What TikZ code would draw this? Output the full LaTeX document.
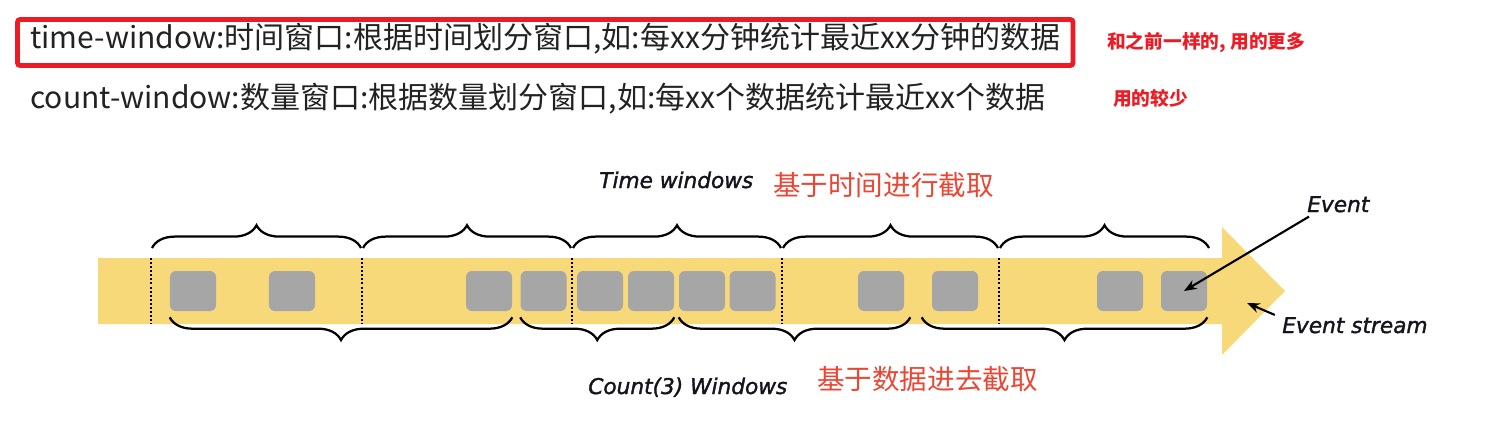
\documentclass[tikz,border=0pt]{standalone}
\usepackage{fontspec}
\setmainfont{Noto Sans CJK SC}
\newfontfamily\lblfont{DejaVu Sans}[ItalicFeatures={FakeBold=1.6}]
\usetikzlibrary{positioning, arrows.meta, decorations.pathreplacing}
\definecolor{boxred}{RGB}{237,28,36}
\definecolor{cnred}{RGB}{235,70,52}
\definecolor{bandyellow}{RGB}{248,217,122}
\definecolor{eventgray}{RGB}{166,166,166}
\definecolor{textgray}{RGB}{34,34,34}
\definecolor{lblink}{RGB}{20,20,30}

\begin{document}
\begin{tikzpicture}[x=0.025cm, y=-0.025cm,
    line/.style={anchor=base west, inner sep=0, font=\fontsize{21.35}{26}\selectfont, text=textgray},
    note/.style={anchor=base west, inner sep=0, font=\fontsize{13.3}{16}\selectfont\bfseries, text=boxred},
    lbl/.style={anchor=base west, inner sep=0, font=\lblfont\itshape\fontsize{15.4}{18}\selectfont, text=lblink},
    cn/.style={anchor=base west, inner sep=0, font=\fontsize{19.6}{22}\selectfont, text=cnred},
    event/.style={rectangle, rounded corners=0.15cm, fill=eventgray, minimum width=1.15cm, minimum height=1cm, inner sep=0},
    sep/.style={line width=1.4pt, dash pattern=on 1.4pt off 1.5pt},
    wbrace/.style={decorate, decoration={brace, amplitude=0.57cm}, line width=1.6pt},
    ptr/.style={line width=1.5pt, -{Stealth[length=9pt, width=7pt]}}]
    \useasboundingbox (0,0) rectangle (1505,441);

    % Text lines
    \node[line] (timeline) at (30,48) {time-window:时间窗口:根据时间划分窗口,如:每xx分钟统计最近xx分钟的数据};
    \node[line] (countline) at (30,108) {count-window:数量窗口:根据数量划分窗口,如:每xx个数据统计最近xx个数据};
    \draw[boxred, line width=3.5pt, rounded corners=2pt] (17.5,19.5) rectangle (1073,65.5);
    \node[note] (note1) at (1107,48) {和之前一样的, 用的更多};
    \node[note] (note2) at (1113,105) {用的较少};

    % Stream
    \fill[bandyellow] (98,258) -- (1222,258) -- (1222,227) -- (1285,291)
        -- (1222,355) -- (1222,324) -- (98,324) -- cycle;
    \draw[sep] (151,258) -- (151,324);
    \draw[sep] (362,258) -- (362,324);
    \draw[sep] (572,258) -- (572,324);
    \draw[sep] (782,258) -- (782,324);
    \draw[sep] (999,258) -- (999,324);

    % Events
    \node[event] (e1) at (193,291) {};
    \node[event] (e2) at (292,291) {};
    \node[event] (e3) at (489,291) {};
    \node[event] (e4) at (543.5,291) {};
    \node[event] (e5) at (600,291) {};
    \node[event] (e6) at (651,291) {};
    \node[event] (e7) at (702,291) {};
    \node[event] (e8) at (752.5,291) {};
    \node[event] (e9) at (881,291) {};
    \node[event] (e10) at (955,291) {};
    \node[event] (e11) at (1120,291) {};
    \node[event] (e12) at (1184,291) {};

    % Time windows
    \draw[wbrace] (152,248) -- (361,248);
    \draw[wbrace] (363,248) -- (571,248);
    \draw[wbrace] (573,248) -- (781,248);
    \draw[wbrace] (783,248) -- (998,248);
    \draw[wbrace] (1000,248) -- (1209,248);

    % Count windows
    \draw[wbrace] ([yshift=-0.15cm]e3.south east) -- ([yshift=-0.15cm]e1.south west);
    \draw[wbrace] ([yshift=-0.15cm]e6.south east) -- ([yshift=-0.15cm]e4.south west);
    \draw[wbrace] ([shift={(0.15cm,-0.15cm)}]e9.south east) -- ([yshift=-0.15cm]e7.south west);
    \draw[wbrace] ([yshift=-0.15cm]e12.south east) -- ([shift={(-0.25cm,-0.15cm)}]e10.south west);

    % Labels
    \node[lbl] (timelbl) at (599,188) {Time windows};
    \node[cn] (timecn) at (773,195) {基于时间进行截取};
    \node[lbl] (countlbl) at (588,394) {Count(3) Windows};
    \node[cn] (countcn) at (817,389) {基于数据进去截取};
    \node[lbl] (evlbl) at (1307,212) {Event};
    \node[lbl] (streamlbl) at (1282,333) {Event stream};
    \coordinate (streamtip) at (1247,303);

    % Pointers
    \draw[ptr] ([shift={(0.05cm,-0.1cm)}]evlbl.south west) -- (e12.center);
    \draw[ptr] ([shift={(-0.18cm,0.05cm)}]streamlbl.north west) -- (streamtip);
\end{tikzpicture}
\end{document}
